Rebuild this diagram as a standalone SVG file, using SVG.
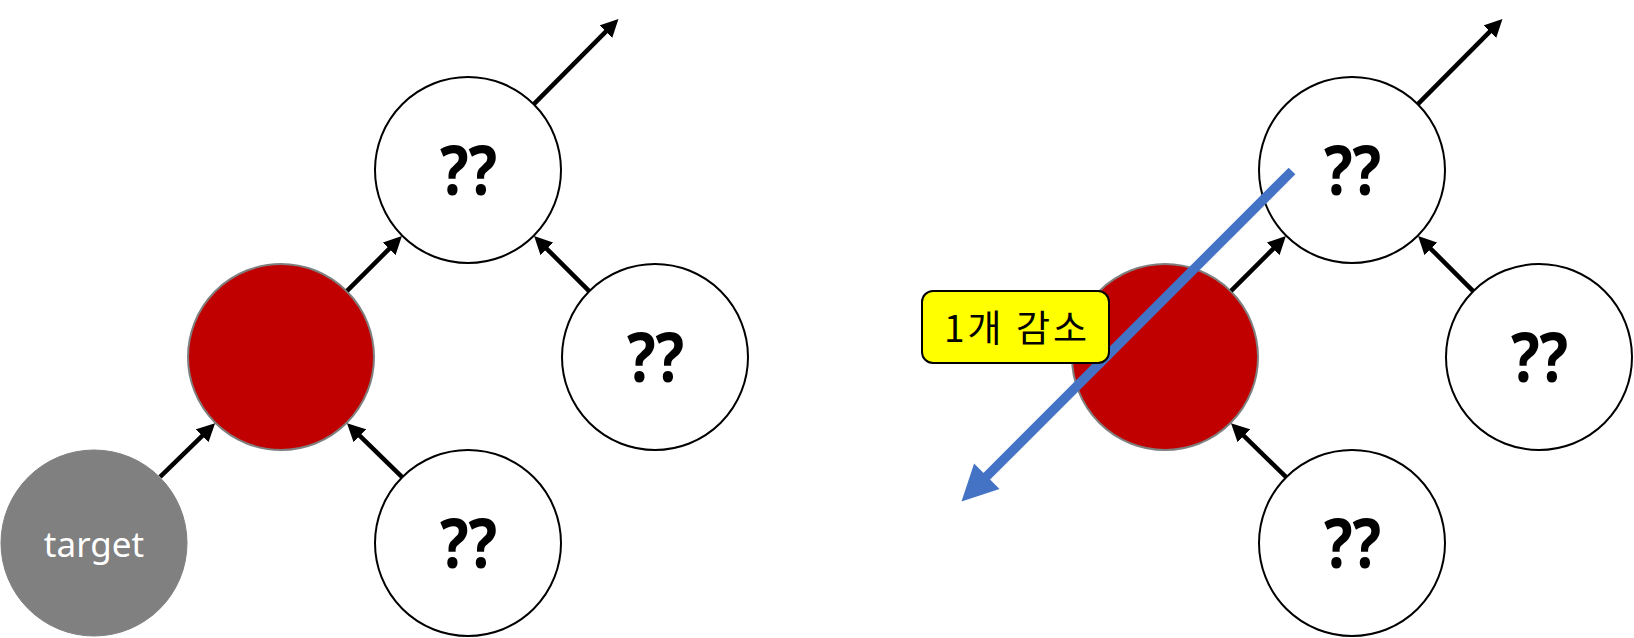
<svg xmlns="http://www.w3.org/2000/svg" width="1634" height="638" viewBox="0 0 1634 638">
<style>
.w{fill:#ffffff;stroke:#000000;stroke-width:2}
.r{fill:#c00000;stroke:#7f7f7f;stroke-width:2}
.g{fill:#808080;stroke:#808080;stroke-width:1}
.q{font-family:"Noto Sans","DejaVu Sans",sans-serif;font-weight:bold;font-size:68px;fill:#000000;text-anchor:middle}
.t{font-family:"Noto Sans","DejaVu Sans",sans-serif;font-size:35px;fill:#ffffff;text-anchor:middle}
.a{stroke:#000000;stroke-width:4.5;fill:none;marker-end:url(#ah)}
.lbl{font-family:"Noto Sans CJK KR","Noto Sans",sans-serif;font-size:37px;letter-spacing:3px;fill:#000000;text-anchor:middle}
</style>
<defs>
<marker id="ah" markerUnits="userSpaceOnUse" markerWidth="18" markerHeight="18" refX="5" refY="9" orient="auto">
<path d="M0,0 L18,9 L0,18 z" fill="#000000"/>
</marker>
</defs>
<rect width="1634" height="638" fill="#ffffff"/>
<g id="L-top"><circle class="w" cx="468" cy="170" r="93"/><text class="q" transform="translate(468.5,195) scale(0.88,1)">??</text></g>
<g id="L-red"><circle class="r" cx="281" cy="357" r="93"/></g>
<g id="L-right"><circle class="w" cx="655" cy="357" r="93"/><text class="q" transform="translate(655.5,382) scale(0.88,1)">??</text></g>
<g id="L-bottom"><circle class="w" cx="468" cy="543" r="93"/><text class="q" transform="translate(468.5,568) scale(0.88,1)">??</text></g>
<g id="L-target"><circle class="g" cx="94" cy="543" r="93"/><text class="t" x="94" y="557">target</text></g>
<g id="R-top"><circle class="w" cx="1352" cy="170" r="93"/><text class="q" transform="translate(1352.5,195) scale(0.88,1)">??</text></g>
<g id="R-red"><circle class="r" cx="1165" cy="357" r="93"/></g>
<g id="R-right"><circle class="w" cx="1539" cy="357" r="93"/><text class="q" transform="translate(1539.5,382) scale(0.88,1)">??</text></g>
<g id="R-bottom"><circle class="w" cx="1352" cy="543" r="93"/><text class="q" transform="translate(1352.5,568) scale(0.88,1)">??</text></g>
<g id="connectors">
<line class="a" x1="160.1" y1="476.9" x2="205.8" y2="432.3"/>
<line class="a" x1="347.1" y1="290.9" x2="392.7" y2="245.3"/>
<line class="a" x1="401.9" y1="476.9" x2="356.3" y2="432.3"/>
<line class="a" x1="588.9" y1="290.9" x2="543.3" y2="245.3"/>
<line class="a" x1="534.1" y1="103.9" x2="609.3" y2="28.2"/>
<line class="a" x1="1231.1" y1="290.9" x2="1276.7" y2="245.3"/>
<line class="a" x1="1285.9" y1="476.9" x2="1240.3" y2="432.3"/>
<line class="a" x1="1472.9" y1="290.9" x2="1427.3" y2="245.3"/>
<line class="a" x1="1418.1" y1="103.9" x2="1493.3" y2="28.2"/>
</g>
<g id="decrease-arrow">
<line x1="1292" y1="171" x2="984" y2="479" stroke="#4472c4" stroke-width="9.5"/>
<polygon points="961.5,501.5 974.1,463.5 999.5,488.9" fill="#4472c4"/>
</g>
<g id="label">
<rect x="922" y="291" width="187" height="72" rx="11" fill="#ffff00" stroke="#000000" stroke-width="2"/>
<text class="lbl" x="1017" y="342">1개 감소</text>
</g>
</svg>
